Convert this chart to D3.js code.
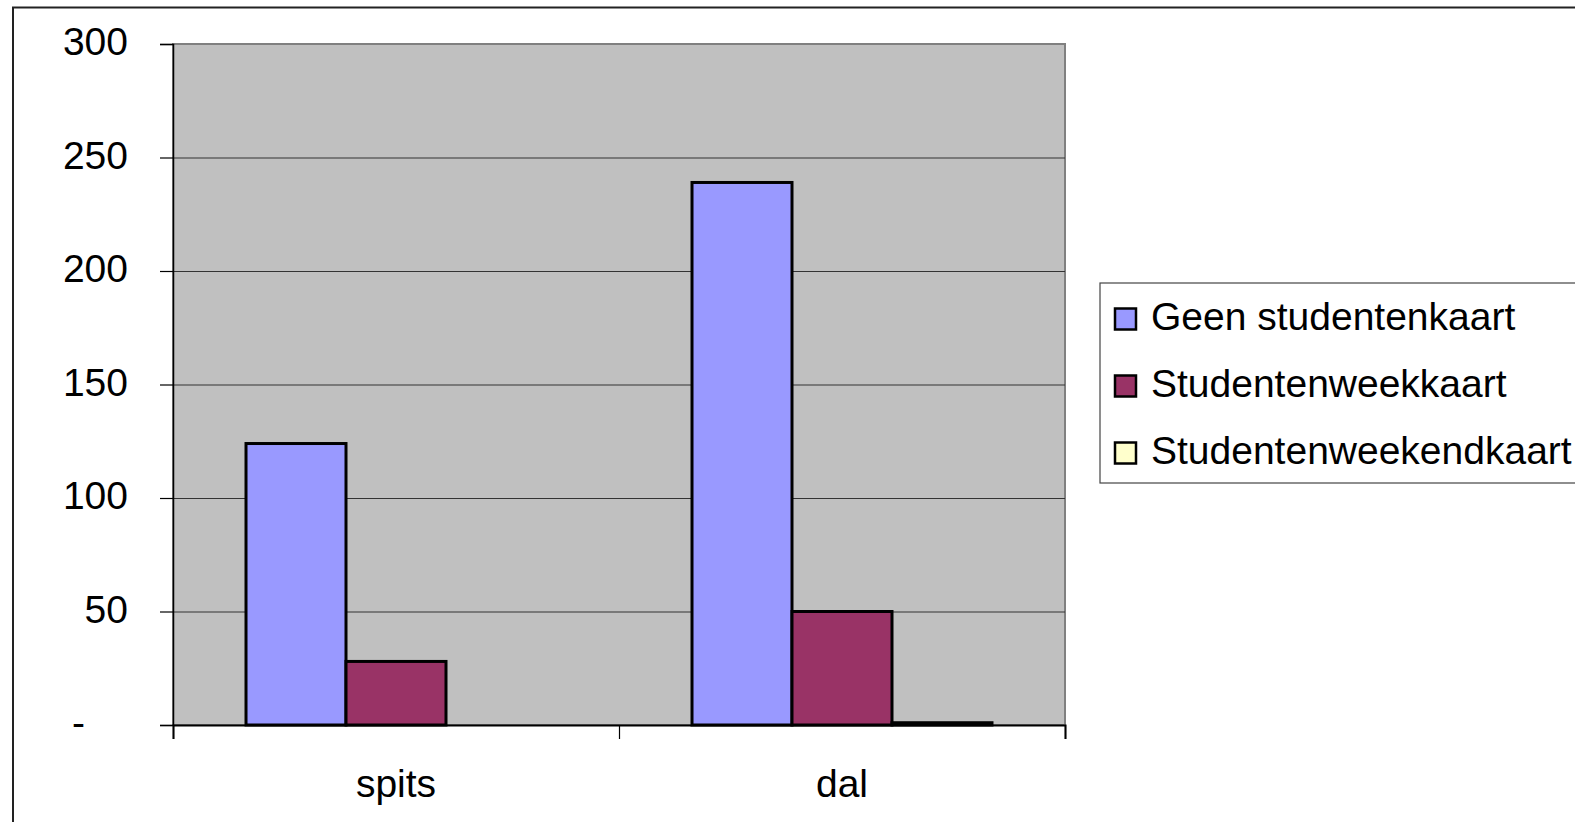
<!DOCTYPE html>
<html>
<head>
<meta charset="utf-8">
<script src="https://cdn.jsdelivr.net/npm/d3@7"></script>
<style>
  html, body { margin: 0; padding: 0; background: #fff; }
  svg { display: block; font-family: "Liberation Sans", Arial, sans-serif; }
</style>
</head>
<body>
<svg id="chart" width="1575" height="822"></svg>
<script>
// Reizigers per tijdvak, per kaartsoort
const categories = ["spits", "dal"];
const series = ["Geen studentenkaart", "Studentenweekkaart", "Studentenweekendkaart"];
const geenValues = [124, 239];
const weekValues = [28, 50];
const weekendValues = [0, 1];
const yTicks = [0, 50, 100, 150, 200, 250, 300];
const colors = ["#9999FF", "#993366", "#FFFFCC"];

const valuesBySeries = [geenValues, weekValues, weekendValues];

const svg = d3.select("#chart");
const fontSize = 39;

// outer chart frame (only top and left edges fall inside the page)
svg.append("rect")
  .attr("x", 13).attr("y", 7.5)
  .attr("width", 1700).attr("height", 1000)
  .attr("fill", "none").attr("stroke", "#222").attr("stroke-width", 2);

const plot = { left: 173, right: 1065, top: 44, bottom: 725 };

const y = d3.scaleLinear().domain([0, 300]).range([plot.bottom, plot.top]);
const x0 = d3.scaleBand().domain(categories).range([plot.left, plot.right]).padding(0);
const bw = x0.bandwidth();
const x1 = d3.scaleBand().domain(series).range([bw * 0.1637, bw * 0.8363]).padding(0);

// plot background
svg.append("rect")
  .attr("x", plot.left).attr("y", plot.top)
  .attr("width", plot.right - plot.left).attr("height", plot.bottom - plot.top)
  .attr("fill", "#C0C0C0").attr("stroke", "#808080").attr("stroke-width", 2);

// horizontal gridlines
svg.append("g")
  .selectAll("line")
  .data(yTicks.filter(d => d > 0 && d < 300))
  .join("line")
  .attr("x1", plot.left).attr("x2", plot.right)
  .attr("y1", d => y(d) + 0.5).attr("y2", d => y(d) + 0.5)
  .attr("stroke", "#333").attr("stroke-width", 1);

// bars
const groups = svg.append("g")
  .selectAll("g")
  .data(categories)
  .join("g")
  .attr("transform", d => `translate(${x0(d)},0)`);

groups.selectAll("rect")
  .data((c, ci) => series.map((s, si) => ({ s, si, v: valuesBySeries[si][ci] })))
  .join("rect")
  .attr("x", d => x1(d.s))
  .attr("y", d => y(d.v))
  .attr("width", x1.bandwidth())
  .attr("height", d => y(0) - y(d.v))
  .attr("fill", d => colors[d.si])
  .attr("stroke", d => d.v > 0 ? "#000" : "none")
  .attr("stroke-width", 3);

// y axis
const yAxis = svg.append("g")
  .attr("transform", `translate(${plot.left},0)`)
  .call(d3.axisLeft(y)
    .tickValues(yTicks)
    .tickFormat(d => d === 0 ? "-" : d)
    .tickSize(13)
    .tickPadding(32));
yAxis.select(".domain").attr("stroke", "#000").attr("stroke-width", 1.5);
yAxis.selectAll(".tick line").attr("stroke", "#000").attr("stroke-width", 1.2);
yAxis.selectAll(".tick text")
  .attr("font-size", fontSize)
  .attr("font-family", "Liberation Sans, Arial, sans-serif")
  .attr("fill", "#000")
  .attr("dy", "0.28em")
  .attr("dx", d => d === 0 ? -43 : 0);

// x axis: boundary ticks and category labels
const xb = d3.scaleLinear().domain([0, categories.length]).range([plot.left, plot.right]);
const xAxis = svg.append("g")
  .attr("transform", `translate(0,${plot.bottom})`)
  .call(d3.axisBottom(xb).tickValues(d3.range(categories.length + 1)).tickFormat("").tickSize(14));
xAxis.select(".domain").attr("stroke", "#000").attr("stroke-width", 2);
xAxis.selectAll(".tick line").attr("stroke", "#000").attr("stroke-width", 1.2);

const xLabels = svg.append("g")
  .attr("transform", `translate(0,${plot.bottom})`)
  .call(d3.axisBottom(x0).tickSize(0).tickPadding(44));
xLabels.select(".domain").remove();
xLabels.selectAll(".tick text")
  .attr("font-size", fontSize)
  .attr("font-family", "Liberation Sans, Arial, sans-serif")
  .attr("fill", "#000");

// legend
const legend = svg.append("g").attr("transform", "translate(1100,283)");
legend.append("rect")
  .attr("x", 0).attr("y", 0)
  .attr("width", 600).attr("height", 200)
  .attr("fill", "#fff").attr("stroke", "#444").attr("stroke-width", 1.2);

const items = legend.selectAll("g.item")
  .data(series)
  .join("g")
  .attr("class", "item")
  .attr("transform", (d, i) => `translate(0,${36 + i * 67})`);

items.append("rect")
  .attr("x", 15).attr("y", -10.5)
  .attr("width", 21).attr("height", 21)
  .attr("fill", (d, i) => colors[i])
  .attr("stroke", "#000").attr("stroke-width", 2.5);

items.append("text")
  .attr("x", 51).attr("y", 11)
  .attr("font-size", fontSize)
  .attr("fill", "#000")
  .text(d => d);
</script>
</body>
</html>
